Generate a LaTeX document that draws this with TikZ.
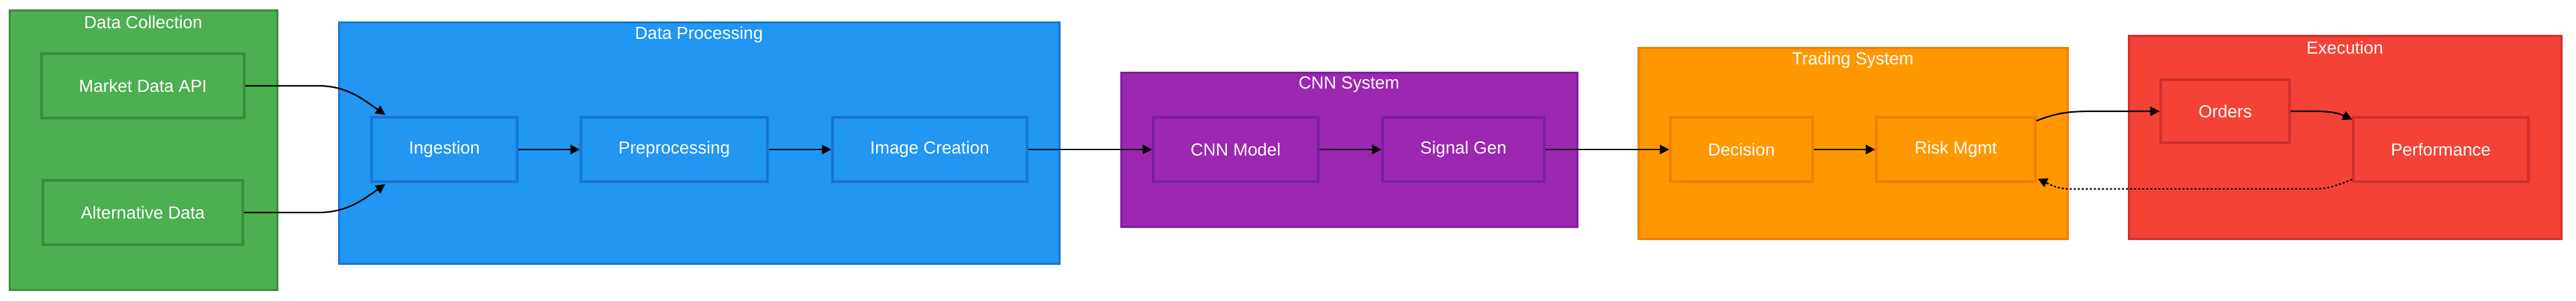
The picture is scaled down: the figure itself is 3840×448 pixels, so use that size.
\documentclass[tikz,border=0pt]{standalone}
\usepackage{fontspec}
\setmainfont{Liberation Sans}
\usetikzlibrary{arrows.meta,shadows,calc}
\definecolor{gfill}{HTML}{4CAF50}\definecolor{gline}{HTML}{388E3C}
\definecolor{bfill}{HTML}{2196F3}\definecolor{bline}{HTML}{1976D2}
\definecolor{pfill}{HTML}{9C27B0}\definecolor{pline}{HTML}{7B1FA2}
\definecolor{ofill}{HTML}{FF9800}\definecolor{oline}{HTML}{F57C00}
\definecolor{rfill}{HTML}{F44336}\definecolor{rline}{HTML}{D32F2F}
\tikzset{
  cluster/.style 2 args={fill=#1, draw=#2, line width=3pt, inner sep=0pt,
    drop shadow={shadow xshift=2pt, shadow yshift=-3pt, opacity=0.12}},
  box/.style 2 args={fill=#1, draw=#2, line width=3.5pt, inner sep=0pt,
    minimum height=96pt, text=white, font=\fontsize{26}{30}\selectfont,
    drop shadow={shadow xshift=1pt, shadow yshift=-3pt, opacity=0.18}},
  ctitle/.style={text=white, font=\fontsize{26}{30}\selectfont, inner sep=0pt},
  arr/.style={line width=2.2pt, -{Triangle[length=14pt,width=14pt]}},
  darr/.style={arr, dash pattern=on 3pt off 3pt},
}
\begin{document}
\begin{tikzpicture}[x=1pt,y=1pt]
\useasboundingbox (0,0) rectangle (3840,-448);
\fill[white] (0,0) rectangle (3840,-448);

% clusters
\node[cluster={gfill}{gline}, minimum width=399pt, minimum height=417pt] (dc) at (213.5,-223.5) {};
\node[cluster={bfill}{bline}, minimum width=1074pt, minimum height=360pt] (dp) at (1042,-213) {};
\node[cluster={pfill}{pline}, minimum width=680pt, minimum height=230pt] (cs) at (2011,-223) {};
\node[cluster={ofill}{oline}, minimum width=640pt, minimum height=285pt] (ts) at (2762,-213.5) {};
\node[cluster={rfill}{rline}, minimum width=645pt, minimum height=303pt] (ex) at (3495.5,-204.5) {};

\node[ctitle] (tdc) at ($(dc.north)+(0,-20)$) {Data Collection};
\node[ctitle] (tdp) at ($(dp.north)+(0,-20)$) {Data Processing};
\node[ctitle] (tcs) at ($(cs.north)+(0,-20)$) {CNN System};
\node[ctitle] (tts) at ($(ts.north)+(0,-20)$) {Trading System};
\node[ctitle] (tex) at ($(ex.north)+(0,-20)$) {Execution};

% nodes
\node[box={gfill}{gline}, minimum width=302pt] (mda) at (213,-128) {Market Data API};
\node[box={gfill}{gline}, minimum width=298pt] (alt) at (213,-317) {Alternative Data};
\node[box={bfill}{bline}, minimum width=217pt] (ing) at (662.5,-223) {Ingestion};
\node[box={bfill}{bline}, minimum width=278pt] (pre) at (1005,-223) {Preprocessing};
\node[box={bfill}{bline}, minimum width=290pt] (img) at (1386,-223) {Image Creation};
\node[box={pfill}{pline}, minimum width=246pt] (cnn) at (1842,-223) {CNN Model};
\node[box={pfill}{pline}, minimum width=241pt] (sig) at (2181.5,-223) {Signal Gen};
\node[box={ofill}{oline}, minimum width=212pt] (dec) at (2596,-223) {Decision};
\node[box={ofill}{oline}, minimum width=237pt] (risk) at (2915.5,-223) {Risk Mgmt};
\node[box={rfill}{rline}, minimum width=192pt, minimum height=94pt] (ord) at (3317,-166) {Orders};
\node[box={rfill}{rline}, minimum width=261pt] (perf) at (3638.5,-223) {Performance};

% connectors
\draw[arr] (mda.east) -- ($(mda.east)+(108,0)$) to[out=0,in=145] ($(ing.north west)+(22,2)$);
\draw[arr] (alt.east) -- ($(alt.east)+(110,0)$) to[out=0,in=-145] ($(ing.south west)+(22,-2)$);
\draw[arr] (ing) -- (pre);
\draw[arr] (pre) -- (img);
\draw[arr] (img) -- (cnn);
\draw[arr] (cnn) -- (sig);
\draw[arr] (sig) -- (dec);
\draw[arr] (dec) -- (risk);
\draw[arr] ($(risk.north east)+(0,-7)$) to[out=22,in=180] ($(ord.west)+(-100,0)$) -- (ord.west);
\draw[arr] (ord.east) -- ($(ord.east)+(38,0)$) to[out=0,in=155] ($(perf.north west)+(0,-5)$);
\draw[darr] ($(perf.south west)+(0,5)$) to[out=200,in=0] ($(perf.south west)+(-55,-9)$)
  -- ($(risk.south east)+(50,-9)$) to[out=180,in=-25] ($(risk.south east)+(2,6)$);
\end{tikzpicture}
\end{document}
